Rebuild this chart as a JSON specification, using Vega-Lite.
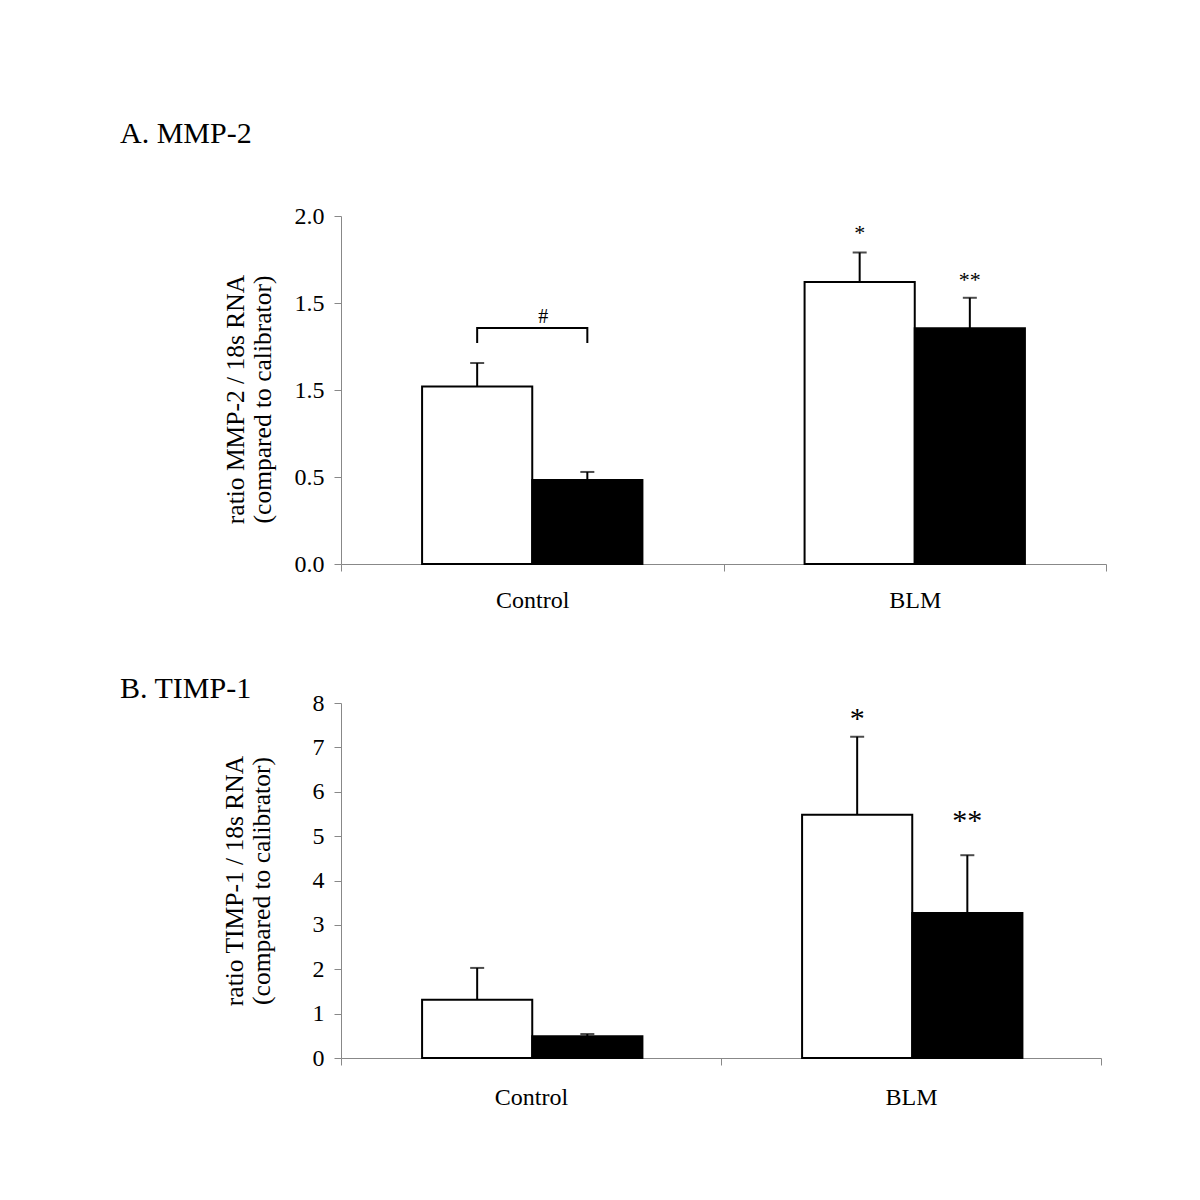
{
  "$schema": "https://vega.github.io/schema/vega-lite/v6.json",
  "background": "white",
  "padding": {"left": 120, "top": 119, "right": 10, "bottom": 10},
  "spacing": 62,
  "config": {
    "view": {"stroke": null},
    "font": "Liberation Serif",
    "axis": {"domainColor": "#888888", "tickColor": "#888888", "labelColor": "black", "titleColor": "black", "labelFont": "Liberation Serif", "titleFont": "Liberation Serif", "labelFontSize": 24, "titleFontSize": 25.5, "titleFontWeight": "normal", "grid": false, "tickSize": 7, "labelPadding": 10, "titleLineHeight": 27},
    "title": {"font": "Liberation Serif", "fontSize": 30, "fontWeight": "normal", "color": "black", "anchor": "start", "frame": "group"}
  },
  "datasets": {
    "mmp": [
      {"group": "Control", "g": "a", "value": 1.02, "err": 1.155},
      {"group": "Control", "g": "b", "value": 0.483, "err": 0.529},
      {"group": "BLM", "g": "a", "value": 1.62, "err": 1.79},
      {"group": "BLM", "g": "b", "value": 1.355, "err": 1.53}
    ],
    "timp": [
      {"group": "Control", "g": "a", "value": 1.31, "err": 2.03},
      {"group": "Control", "g": "b", "value": 0.49, "err": 0.54},
      {"group": "BLM", "g": "a", "value": 5.48, "err": 7.24},
      {"group": "BLM", "g": "b", "value": 3.27, "err": 4.57}
    ],
    "bracket": [
      {"group": "Control", "g": "a", "y": 1.27, "o": 1},
      {"group": "Control", "g": "a", "y": 1.356, "o": 2},
      {"group": "Control", "g": "b", "y": 1.356, "o": 3},
      {"group": "Control", "g": "b", "y": 1.27, "o": 4}
    ],
    "hash": [{"group": "Control", "g": "b", "y": 1.42, "label": "#"}],
    "stars_mmp": [
      {"group": "BLM", "g": "a", "y": 1.9, "label": "*"},
      {"group": "BLM", "g": "b", "y": 1.63, "label": "**"}
    ],
    "stars_timp": [
      {"group": "BLM", "g": "a", "y": 7.65, "label": "*"},
      {"group": "BLM", "g": "b", "y": 5.35, "label": "**"}
    ]
  },
  "vconcat": [
    {
      "width": 765,
      "height": 348,
      "title": {"text": "A. MMP-2", "dx": -221, "offset": 55},
      "encoding": {
        "x": {"field": "group", "type": "nominal", "sort": ["Control", "BLM"], "scale": {"domain": ["Control", "BLM"], "paddingInner": 0, "paddingOuter": 0},
          "axis": {"title": null, "labelAngle": 0, "tickBand": "extent", "labelPadding": 17}},
        "xOffset": {"field": "g", "type": "nominal", "scale": {"domain": ["a", "b"], "paddingInner": 0, "paddingOuter": 0.736}}
      },
      "layer": [
        {
          "data": {"name": "mmp"},
          "mark": {"type": "bar", "stroke": "black", "strokeWidth": 2},
          "encoding": {
            "y": {"field": "value", "type": "quantitative", "scale": {"domain": [0, 2]},
              "axis": {"values": [0, 0.5, 1, 1.5, 2], "labelExpr": "datum.value == 1 ? '1.5' : format(datum.value, '.1f')", "title": ["ratio MMP-2 / 18s RNA", "(compared to calibrator)"], "titlePadding": 19, "titleY": 183}},
            "fill": {"field": "g", "type": "nominal", "scale": {"domain": ["a", "b"], "range": ["white", "black"]}, "legend": null}
          }
        },
        {
          "data": {"name": "mmp"},
          "mark": {"type": "rule", "color": "black", "strokeWidth": 2},
          "encoding": {"y": {"field": "value", "type": "quantitative"}, "y2": {"field": "err"}}
        },
        {
          "data": {"name": "mmp"},
          "mark": {"type": "tick", "color": "black", "size": 14, "thickness": 2, "orient": "horizontal"},
          "encoding": {"y": {"field": "err", "type": "quantitative"}}
        },
        {
          "data": {"name": "bracket"},
          "mark": {"type": "line", "color": "black", "strokeWidth": 2},
          "encoding": {"y": {"field": "y", "type": "quantitative"}, "order": {"field": "o", "type": "quantitative"}}
        },
        {
          "data": {"name": "hash"},
          "mark": {"type": "text", "fontSize": 20, "color": "black", "baseline": "middle", "dx": -44},
          "encoding": {"y": {"field": "y", "type": "quantitative"}, "text": {"field": "label"}}
        },
        {
          "data": {"name": "stars_mmp"},
          "mark": {"type": "text", "fontSize": 22, "color": "black", "baseline": "middle"},
          "encoding": {"y": {"field": "y", "type": "quantitative"}, "text": {"field": "label"}}
        }
      ]
    },
    {
      "width": 760,
      "height": 355,
      "title": {"text": "B. TIMP-1", "dx": -221, "offset": -13},
      "encoding": {
        "x": {"field": "group", "type": "nominal", "sort": ["Control", "BLM"], "scale": {"domain": ["Control", "BLM"], "paddingInner": 0, "paddingOuter": 0},
          "axis": {"title": null, "labelAngle": 0, "tickBand": "extent", "labelPadding": 20}},
        "xOffset": {"field": "g", "type": "nominal", "scale": {"domain": ["a", "b"], "paddingInner": 0, "paddingOuter": 0.743}}
      },
      "layer": [
        {
          "data": {"name": "timp"},
          "mark": {"type": "bar", "stroke": "black", "strokeWidth": 2},
          "encoding": {
            "y": {"field": "value", "type": "quantitative", "scale": {"domain": [0, 8]},
              "axis": {"values": [0, 1, 2, 3, 4, 5, 6, 7, 8], "title": ["ratio TIMP-1 / 18s RNA", "(compared to calibrator)"], "titlePadding": 38}},
            "fill": {"field": "g", "type": "nominal", "scale": {"domain": ["a", "b"], "range": ["white", "black"]}, "legend": null}
          }
        },
        {
          "data": {"name": "timp"},
          "mark": {"type": "rule", "color": "black", "strokeWidth": 2},
          "encoding": {"y": {"field": "value", "type": "quantitative"}, "y2": {"field": "err"}}
        },
        {
          "data": {"name": "timp"},
          "mark": {"type": "tick", "color": "black", "size": 14, "thickness": 2, "orient": "horizontal"},
          "encoding": {"y": {"field": "err", "type": "quantitative"}}
        },
        {
          "data": {"name": "stars_timp"},
          "mark": {"type": "text", "fontSize": 30, "color": "black", "baseline": "middle"},
          "encoding": {"y": {"field": "y", "type": "quantitative"}, "text": {"field": "label"}}
        }
      ]
    }
  ]
}
